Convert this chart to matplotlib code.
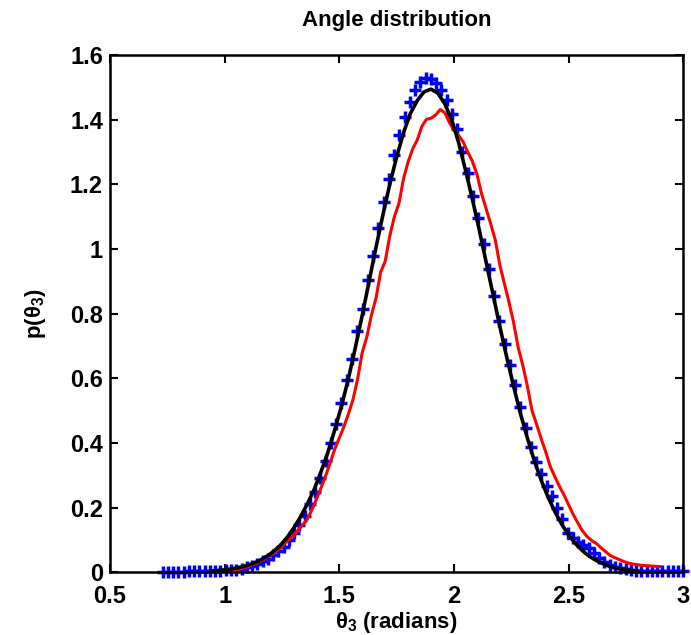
import numpy as np
import matplotlib.pyplot as plt

plt.rcParams["font.family"] = ["Liberation Sans", "DejaVu Sans"]
plt.rcParams["font.weight"] = "bold"
plt.rcParams["mathtext.fontset"] = "custom"
plt.rcParams["mathtext.rm"] = "Liberation Sans:bold"
plt.rcParams["mathtext.it"] = "Liberation Sans:bold"
plt.rcParams["mathtext.bf"] = "Liberation Sans:bold"

# histogram of sampled angles (bin centres 0.73 .. 3.0)
hist_x = np.linspace(0.73, 3.0, 100)
hist_p = [
    0.001, 0.001, 0.001, 0.001, 0.001, 0.002, 0.002, 0.002, 0.002, 0.003,
    0.003, 0.004, 0.006, 0.007, 0.008, 0.011, 0.015, 0.019, 0.025, 0.033,
    0.041, 0.052, 0.064, 0.078, 0.100, 0.120, 0.145, 0.175, 0.210, 0.248,
    0.290, 0.343, 0.400, 0.460, 0.522, 0.595, 0.660, 0.745, 0.815, 0.905,
    0.980, 1.065, 1.145, 1.218, 1.290, 1.352, 1.408, 1.455, 1.492, 1.518,
    1.530, 1.528, 1.514, 1.493, 1.460, 1.418, 1.372, 1.300, 1.235, 1.165,
    1.095, 1.015, 0.937, 0.855, 0.778, 0.705, 0.642, 0.578, 0.510, 0.445,
    0.386, 0.340, 0.303, 0.268, 0.235, 0.200, 0.165, 0.122, 0.106, 0.093,
    0.083, 0.074, 0.058, 0.045, 0.032, 0.022, 0.016, 0.012, 0.009, 0.007,
    0.005, 0.005, 0.004, 0.004, 0.003, 0.003, 0.003, 0.002, 0.002, 0.002,
]

# fitted density
fit_x = np.arange(0.94, 2.801, 0.03)
fit_p = [
    0.004, 0.005, 0.007, 0.010, 0.014, 0.019, 0.026, 0.035, 0.047, 0.062,
    0.081, 0.105, 0.135, 0.170, 0.210, 0.255, 0.310, 0.370, 0.440, 0.515,
    0.600, 0.695, 0.795, 0.900, 1.005, 1.105, 1.200, 1.285, 1.360, 1.420,
    1.460, 1.487, 1.495, 1.482, 1.450, 1.400, 1.330, 1.245, 1.155, 1.060,
    0.960, 0.860, 0.760, 0.665, 0.575, 0.490, 0.415, 0.345, 0.285, 0.232,
    0.187, 0.148, 0.115, 0.088, 0.066, 0.049, 0.036, 0.026, 0.018, 0.012,
    0.008, 0.005, 0.003,
]

# density from the second simulation
sim_x = np.arange(1.04, 2.901, 0.02)
sim_p = [
    0.006, 0.009, 0.012, 0.017, 0.023, 0.028, 0.035, 0.043, 0.053, 0.062,
    0.073, 0.087, 0.100, 0.112, 0.130, 0.146, 0.163, 0.192, 0.225, 0.260,
    0.297, 0.338, 0.380, 0.415, 0.450, 0.490, 0.535, 0.598, 0.680, 0.728,
    0.795, 0.848, 0.928, 0.962, 1.040, 1.100, 1.141, 1.218, 1.270, 1.310,
    1.338, 1.380, 1.402, 1.405, 1.415, 1.432, 1.422, 1.392, 1.368, 1.352,
    1.332, 1.300, 1.272, 1.232, 1.172, 1.125, 1.078, 1.028, 0.950, 0.892,
    0.835, 0.772, 0.695, 0.640, 0.575, 0.500, 0.458, 0.413, 0.372, 0.326,
    0.295, 0.265, 0.238, 0.208, 0.178, 0.152, 0.128, 0.110, 0.098, 0.089,
    0.076, 0.064, 0.052, 0.045, 0.039, 0.033, 0.028, 0.025, 0.023, 0.021,
    0.020, 0.019, 0.018, 0.017,
]

fig = plt.figure(figsize=(6.91, 6.35), dpi=100)
ax = fig.add_axes([0.159, 0.099, 0.830, 0.814])

ax.plot(hist_x, hist_p, "+", color="#0000ff", markersize=9, markeredgewidth=2.5,
        clip_on=False, zorder=2)
ax.plot(sim_x[:len(sim_p)], sim_p, color="#ff0000", lw=2.2, zorder=3)
ax.plot(fit_x[:len(fit_p)], fit_p, color="black", lw=2.6, zorder=4)

ax.set_xlim(0.5, 3.0)
ax.set_ylim(0, 1.6)
ax.set_xticks([0.5, 1, 1.5, 2, 2.5, 3])
ax.set_xticklabels(["0.5", "1", "1.5", "2", "2.5", "3"])
ax.set_yticks(np.arange(0, 1.61, 0.2))
ax.set_yticklabels(["0", "0.2", "0.4", "0.6", "0.8", "1", "1.2", "1.4", "1.6"])
ax.tick_params(direction="in", length=6, width=1.5, top=True, right=True,
               labelsize=17)
ax.tick_params(axis="x", pad=9)
ax.tick_params(axis="y", pad=5)
for s in ax.spines.values():
    s.set_linewidth(1.8)

ax.set_title("Angle distribution", fontsize=16, fontweight="bold", pad=21)
ax.set_xlabel(r"$\theta_3$ (radians)", fontsize=16, fontweight="bold", labelpad=2)
ax.set_ylabel(r"p($\theta_3$)", fontsize=16, fontweight="bold", labelpad=16)

fig.savefig("out.png", dpi=100)
